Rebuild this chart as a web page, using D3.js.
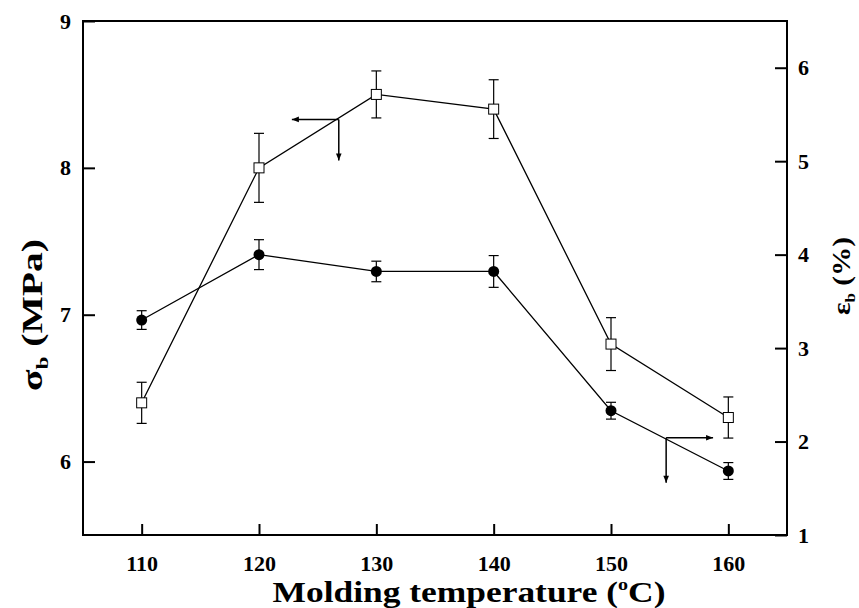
<!DOCTYPE html>
<html><head><meta charset="utf-8">
<script src="https://cdn.jsdelivr.net/npm/d3@7"></script>
<style>body{margin:0;background:#fff} svg{display:block}</style>
</head><body><svg id="c" width="859" height="608"></svg>
<script>
// ---- data ----
const temperatures = [110, 120, 130, 140, 150, 160];
const sigmaB   = [6.40, 8.00, 8.50, 8.40, 6.80, 6.30];   // MPa, open squares, left axis
const sigmaErr = [0.14, 0.235, 0.16, 0.20, 0.18, 0.14];
const epsB     = [3.30, 4.00, 3.82, 3.82, 2.33, 1.685];  // %, filled circles, right axis
const epsErr   = [0.10, 0.16, 0.11, 0.17, 0.09, 0.09];
const xTicks = [110, 120, 130, 140, 150, 160];
const leftTicks = [6, 7, 8, 9];
const rightTicks = [1, 2, 3, 4, 5, 6];
// arrow annotations (data units)
const sigmaArrow = {x: 126.8, y: 8.33, xEnd: 122.8, yEnd: 8.05};
const epsArrow   = {x: 154.7, y: 2.04, xEnd: 158.7, yEnd: 1.56};

// ---- layout ----
const m = {l: 83, r: 787, t: 21, b: 535};
const font = '"Liberation Serif","Times New Roman",serif';
const svg = d3.select('#c');
const x  = d3.scaleLinear().domain([105, 165]).range([m.l, m.r]);
const yL = d3.scaleLinear().domain([5.5, 9]).range([m.b, m.t]);
const yR = d3.scaleLinear().domain([1, 6.5]).range([m.b, m.t]);

function styleAxis(g) {
  g.select('.domain').remove();
  g.selectAll('.tick line').attr('stroke', '#000').attr('stroke-width', 2);
  g.selectAll('.tick text').attr('fill', '#000').style('font-family', font)
    .style('font-weight', 'bold').style('font-size', '22px');
}
svg.append('g').attr('transform', `translate(0,${m.b})`)
  .call(d3.axisBottom(x).tickValues(xTicks).tickSize(-11).tickPadding(20).tickFormat(d3.format('d')))
  .call(styleAxis);
svg.append('g').attr('transform', `translate(${m.l},0)`)
  .call(d3.axisLeft(yL).tickValues(leftTicks).tickSize(-12).tickPadding(12).tickFormat(d3.format('d')))
  .call(styleAxis);
svg.append('g').attr('transform', `translate(${m.r},0)`)
  .call(d3.axisRight(yR).tickValues(rightTicks).tickSize(-12).tickPadding(11).tickFormat(d3.format('d')))
  .call(styleAxis);

svg.append('rect').attr('x', m.l).attr('y', m.t).attr('width', m.r - m.l).attr('height', m.b - m.t)
  .attr('fill', 'none').attr('stroke', '#000').attr('stroke-width', 2);

// arrow marker
svg.append('defs').append('marker').attr('id', 'ah').attr('viewBox', '0 0 10 10')
  .attr('refX', 10).attr('refY', 5).attr('markerWidth', 10).attr('markerHeight', 7)
  .attr('markerUnits', 'userSpaceOnUse').attr('orient', 'auto')
  .append('path').attr('d', 'M0,1L10,5L0,9Z').attr('fill', '#000');

// series
const data = temperatures.map((t, i) => ({t, s: sigmaB[i], se: sigmaErr[i], e: epsB[i], ee: epsErr[i]}));
const cap = 5;

function errorBars(yScale, key, errKey) {
  const g = svg.append('g').attr('stroke', '#000').attr('stroke-width', 1.2);
  data.forEach(d => {
    const cx = x(d.t), y1 = yScale(d[key] - d[errKey]), y2 = yScale(d[key] + d[errKey]);
    g.append('line').attr('x1', cx).attr('x2', cx).attr('y1', y1).attr('y2', y2);
    g.append('line').attr('x1', cx - cap).attr('x2', cx + cap).attr('y1', y1).attr('y2', y1);
    g.append('line').attr('x1', cx - cap).attr('x2', cx + cap).attr('y1', y2).attr('y2', y2);
  });
}
errorBars(yL, 's', 'se');
errorBars(yR, 'e', 'ee');

svg.append('path').datum(data).attr('fill', 'none').attr('stroke', '#000').attr('stroke-width', 1.3)
  .attr('d', d3.line().x(d => x(d.t)).y(d => yL(d.s)));
svg.append('path').datum(data).attr('fill', 'none').attr('stroke', '#000').attr('stroke-width', 1.3)
  .attr('d', d3.line().x(d => x(d.t)).y(d => yR(d.e)));

svg.append('g').selectAll('rect').data(data).join('rect')
  .attr('x', d => x(d.t) - 5).attr('y', d => yL(d.s) - 5).attr('width', 10).attr('height', 10)
  .attr('fill', '#fff').attr('stroke', '#000').attr('stroke-width', 1);
svg.append('g').selectAll('circle').data(data).join('circle')
  .attr('cx', d => x(d.t)).attr('cy', d => yR(d.e)).attr('r', 5.5).attr('fill', '#000');

// arrows
function arrowPair(a, yScale) {
  const g = svg.append('g').attr('stroke', '#000').attr('stroke-width', 1.5).attr('fill', 'none');
  g.append('line').attr('x1', x(a.x)).attr('y1', yScale(a.y)).attr('x2', x(a.xEnd)).attr('y2', yScale(a.y))
    .attr('marker-end', 'url(#ah)');
  g.append('line').attr('x1', x(a.x)).attr('y1', yScale(a.y)).attr('x2', x(a.x)).attr('y2', yScale(a.yEnd))
    .attr('marker-end', 'url(#ah)');
}
arrowPair(sigmaArrow, yL);
arrowPair(epsArrow, yR);

// titles: slightly stretched along the reading direction to the reference extent
function stretchedText(cx, cy, rot, size, target, parts) {
  const outer = svg.append('g').attr('transform', `translate(${cx},${cy}) rotate(${rot})`);
  const inner = outer.append('g');
  const t = inner.append('text').attr('text-anchor', 'middle')
    .style('font-family', font).style('font-weight', 'bold').style('font-size', size + 'px');
  parts.forEach(p => {
    const ts = t.append('tspan').text(p.text);
    if (p.dy) ts.attr('dy', p.dy);
    if (p.size) ts.style('font-size', p.size + 'px');
  });
  const w = t.node().getBBox().width;
  inner.attr('transform', `scale(${target / w},1)`);
}
stretchedText(469, 602, 0, 30, 393, [
  {text: 'Molding temperature ('}, {text: 'o', size: 17, dy: -12}, {text: 'C)', dy: 12}]);
stretchedText(42, 315, -90, 29, 152, [
  {text: 'σ'}, {text: 'b', size: 17, dy: 6}, {text: ' (MPa)', dy: -6}]);
stretchedText(850, 276, -90, 26, 78, [
  {text: 'ε'}, {text: 'b', size: 15, dy: 5}, {text: ' (%)', dy: -5}]);
</script>
</body></html>
